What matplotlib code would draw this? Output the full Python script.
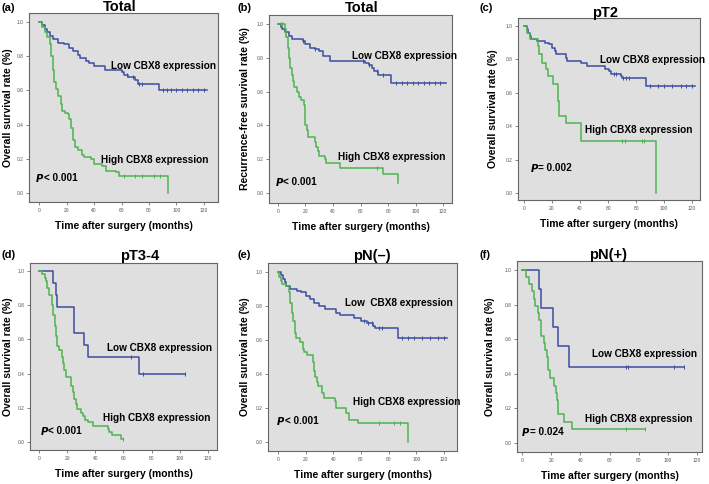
import matplotlib
matplotlib.use("Agg")
import matplotlib.pyplot as plt

plt.rcParams['font.family'] = ['Liberation Sans', 'DejaVu Sans']

W, H = 709, 484

# ---- data: step times / survival (value holds from that time on) ----
# (a) Total, overall survival
a_low_t = [0, 2, 4, 6, 8, 10, 14, 18, 22, 25, 28, 30, 34, 36, 40, 48, 60, 62, 65, 70, 72, 87, 122]
a_low_s = [1.0, 0.98, 0.96, 0.94, 0.92, 0.90, 0.88, 0.87, 0.85, 0.83, 0.81, 0.79, 0.77, 0.76, 0.74, 0.72, 0.71, 0.69, 0.68, 0.66, 0.64, 0.60, 0.60]
a_low_c = [64, 68, 73, 75, 90, 93, 96, 100, 104, 108, 112, 116, 120]
a_high_t = [0, 2, 4, 6, 8, 9, 10, 11, 12, 14, 16, 17, 19, 21, 22, 23.5, 25, 26.5, 28, 31, 33, 38, 40, 46, 49, 56, 58, 94, 94.01]
a_high_s = [1.0, 0.97, 0.94, 0.91, 0.87, 0.80, 0.72, 0.65, 0.61, 0.57, 0.52, 0.48, 0.47, 0.46, 0.43, 0.38, 0.31, 0.27, 0.25, 0.22, 0.21, 0.20, 0.17, 0.16, 0.13, 0.12, 0.10, 0.0, 0.0]
a_high_c = [62, 70, 75, 84, 88]

# (b) Total, recurrence-free survival
b_low_t = [0, 2, 3, 5, 8, 10, 18, 20, 23, 27, 30, 33, 38, 63, 66, 68, 70, 73, 82, 122]
b_low_s = [1.0, 0.98, 0.97, 0.95, 0.93, 0.91, 0.90, 0.88, 0.86, 0.85, 0.84, 0.81, 0.78, 0.77, 0.76, 0.74, 0.72, 0.70, 0.65, 0.65]
b_low_c = [18, 27, 62, 66, 72, 76, 86, 90, 94, 98, 102, 106, 110, 114, 118]
b_high_t = [0, 5, 6, 7, 8, 9, 10, 11, 12, 14, 15, 17, 19, 19.5, 20, 21, 22, 27, 28, 29, 30, 34, 35, 45, 76, 87, 87.01]
b_high_s = [1.0, 0.97, 0.92, 0.86, 0.80, 0.74, 0.70, 0.66, 0.63, 0.60, 0.57, 0.55, 0.52, 0.43, 0.40, 0.37, 0.33, 0.30, 0.27, 0.25, 0.22, 0.20, 0.18, 0.15, 0.11, 0.06, 0.06]
b_high_c = [2, 3, 8, 72]

# (c) pT2, overall survival
c_low_t = [0, 2, 3, 4, 5, 9, 15, 18, 20, 22, 23, 30, 31, 41, 45, 58, 61, 62, 69, 70, 87, 122]
c_low_s = [1.0, 0.98, 0.96, 0.94, 0.92, 0.91, 0.90, 0.89, 0.87, 0.85, 0.83, 0.81, 0.79, 0.78, 0.76, 0.74, 0.73, 0.71, 0.70, 0.69, 0.64, 0.64]
c_low_c = [64, 66, 71, 73, 75, 90, 96, 100, 106, 112, 116, 120]
c_high_t = [0, 2, 4, 10, 11, 13, 16, 17, 21, 24, 24.5, 25, 30, 41, 94, 94.01]
c_high_s = [1.0, 0.96, 0.92, 0.88, 0.83, 0.78, 0.74, 0.70, 0.65, 0.60, 0.55, 0.46, 0.42, 0.31, 0.0, 0.0]
c_high_c = [70, 72, 84, 86]

# (d) pT3-4, overall survival
d_low_t = [0, 10, 12, 13, 25, 32, 35, 71, 104]
d_low_s = [1.0, 0.93, 0.86, 0.79, 0.64, 0.57, 0.50, 0.40, 0.40]
d_low_c = [65, 74, 104]
d_high_t = [0, 2, 4, 5, 6, 7, 9, 10, 11, 12, 13, 14, 16, 17, 18, 19, 23, 24, 25, 26, 27, 30, 31, 33, 35, 38, 49, 50, 52, 58, 60]
d_high_s = [1.0, 0.98, 0.96, 0.94, 0.90, 0.86, 0.80, 0.74, 0.68, 0.62, 0.56, 0.54, 0.50, 0.46, 0.42, 0.38, 0.33, 0.29, 0.25, 0.22, 0.19, 0.17, 0.15, 0.13, 0.115, 0.096, 0.075, 0.058, 0.038, 0.019, 0.019]
d_high_c = [60]

# (e) pN(-), overall survival
e_low_t = [0, 2, 4, 5, 6, 9, 14, 17, 20, 23, 26, 30, 34, 42, 45, 55, 60, 64, 69, 70, 87, 122]
e_low_s = [1.0, 0.98, 0.96, 0.94, 0.92, 0.90, 0.89, 0.88, 0.86, 0.84, 0.82, 0.80, 0.78, 0.76, 0.75, 0.73, 0.71, 0.70, 0.68, 0.67, 0.61, 0.61]
e_low_c = [62, 65, 68, 73, 75, 90, 94, 98, 104, 110, 116, 120]
e_high_t = [0, 1, 2, 3, 6, 8, 9, 10, 11, 12, 13, 16, 18, 19, 21, 25, 26, 27, 28, 29, 32, 33, 41, 42, 49, 51, 58, 94, 94.01]
e_high_s = [1.0, 0.97, 0.95, 0.93, 0.92, 0.88, 0.82, 0.76, 0.71, 0.64, 0.61, 0.59, 0.55, 0.53, 0.51, 0.47, 0.42, 0.38, 0.35, 0.33, 0.29, 0.26, 0.24, 0.20, 0.17, 0.13, 0.11, 0.0, 0.0]
e_high_c = [73, 84, 88]

# (f) pN(+), overall survival
f_low_t = [0, 12, 13, 21, 25, 32, 111]
f_low_s = [1.0, 0.89, 0.78, 0.67, 0.56, 0.44, 0.44]
f_low_c = [71, 73, 104, 111]
f_high_t = [0, 3, 5, 7, 8, 9, 11, 12, 13, 15, 16, 17, 18, 19, 22, 23, 24, 24.5, 25, 29, 34, 84]
f_high_s = [1.0, 0.96, 0.92, 0.88, 0.83, 0.79, 0.75, 0.71, 0.62, 0.58, 0.54, 0.50, 0.42, 0.375, 0.33, 0.29, 0.25, 0.21, 0.17, 0.12, 0.08, 0.08]
f_high_c = [71, 84]

panel_letters = ["(a)", "(b)", "(c)", "(d)", "(e)", "(f)"]
titles = ["Total", "Total", "pT2", "pT3-4", "pN(\u2013)", "pN(+)"]
ylabels = ["Overall survival rate (%)", "Recurrence-free survival rate (%)",
           "Overall survival rate (%)", "Overall survival rate (%)",
           "Overall survival rate (%)", "Overall survival rate (%)"]
low_labels = ["Low CBX8 expression", "Low CBX8 expression", "Low CBX8 expression",
              "Low CBX8 expression", "Low  CBX8 expression", "Low CBX8 expression"]
p_texts = ["< 0.001", "< 0.001", "= 0.002", "< 0.001", "< 0.001", "= 0.024"]

series = [
    (a_low_t, a_low_s, a_low_c, a_high_t, a_high_s, a_high_c),
    (b_low_t, b_low_s, b_low_c, b_high_t, b_high_s, b_high_c),
    (c_low_t, c_low_s, c_low_c, c_high_t, c_high_s, c_high_c),
    (d_low_t, d_low_s, d_low_c, d_high_t, d_high_s, d_high_c),
    (e_low_t, e_low_s, e_low_c, e_high_t, e_high_s, e_high_c),
    (f_low_t, f_low_s, f_low_c, f_high_t, f_high_s, f_high_c),
]

# layout (pixels): axes frame left, right, top, bottom
frames = [(29, 218, 13, 202), (269, 452, 15, 203), (518, 700, 18, 200),
          (30, 217, 263, 450), (268, 457, 263, 451), (517, 702, 261, 452)]
xlims = [(-7.3, 130.2), (-6.5, 126.5), (-4.3, 125.7), (-6.4, 126.4), (-7.2, 129.4), (-3.4, 123.4)]
ylims = [(-0.053, 1.053), (-0.059, 1.053), (-0.042, 1.048), (-0.047, 1.047), (-0.053, 1.053), (-0.052, 1.052)]
# text positions in data coords: low label, high label, p value
low_pos = [(52, 0.745), (53.5, 0.813), (54, 0.795), (48, 0.547), (48.2, 0.82), (48.2, 0.515)]
high_pos = [(45, 0.19), (43.3, 0.213), (43.3, 0.378), (45.2, 0.14), (54.2, 0.233), (43, 0.14)]
p_pos = [(-2.7, 0.088), (-2.4, 0.063), (4, 0.15), (0.7, 0.064), (-1.2, 0.125), (-0.5, 0.062)]
title_pos = [(120, 7), (362, 8), (605, 13), (140, 256), (372, 256), (608, 255)]
letter_pos = [(2, 8), (237, 8), (480, 8), (2, 255), (238, 255), (480, 255)]
ylab_x = [8, 245, 493, 8, 245, 490]

BLUE = "#3d4ea0"
GREEN = "#4db34f"
BG = "#dfdfdf"

fig = plt.figure(figsize=(W / 100, H / 100), dpi=100)

for i in range(6):
    l, r, t, b = frames[i]
    ax = fig.add_axes([l / W, 1 - b / H, (r - l) / W, (b - t) / H])
    ax.set_facecolor(BG)
    lt, ls, lc, ht, hs, hc = series[i]
    ax.step(lt, ls, where="post", color=BLUE, lw=1.1)
    ax.step(ht, hs, where="post", color=GREEN, lw=1.1)
    # censor ticks
    for ts, ss, cs, col in ((lt, ls, lc, BLUE), (ht, hs, hc, GREEN)):
        for c in cs:
            v = ss[0]
            for tt, sv in zip(ts, ss):
                if tt <= c:
                    v = sv
            ax.plot([c], [v], marker="|", color=col, ms=3, mew=0.7)
    ax.set_xlim(*xlims[i])
    ax.set_ylim(*ylims[i])
    ax.set_xticks([0, 20, 40, 60, 80, 100, 120])
    ax.set_yticks([0.0, 0.2, 0.4, 0.6, 0.8, 1.0])
    ax.set_yticklabels(["0.0", "0.2", "0.4", "0.6", "0.8", "1.0"])
    ax.tick_params(labelsize=3.5, colors="#555555", length=2, width=0.5, pad=2)
    for sp in ax.spines.values():
        sp.set_color("#666666")
        sp.set_linewidth(0.8)

    ax.text(*low_pos[i], low_labels[i], fontsize=7.2, fontweight="bold", va="center", ha="left")
    ax.text(*high_pos[i], "High CBX8 expression", fontsize=7.2, fontweight="bold", va="center", ha="left")
    ax.text(p_pos[i][0], p_pos[i][1], "$\\boldsymbol{P}$", fontsize=7.2, va="center", ha="left")
    ax.text(p_pos[i][0] + 6, p_pos[i][1], p_texts[i], fontsize=7.2, fontweight="bold", va="center", ha="left")

    ax.set_xlabel("Time after surgery (months)", fontsize=7.5, fontweight="bold", labelpad=6)
    fig.text(ylab_x[i] / W, 1 - ((t + b) / 2) / H, ylabels[i], rotation=90,
             fontsize=7.5, fontweight="bold", ha="center", va="center")
    fig.text(title_pos[i][0] / W, 1 - title_pos[i][1] / H, titles[i],
             fontsize=10.5, fontweight="bold", ha="center", va="center")
    fig.text(letter_pos[i][0] / W, 1 - letter_pos[i][1] / H, panel_letters[i],
             fontsize=8, fontweight="bold", ha="left", va="center")

fig.savefig("out.png", dpi=100, facecolor="white")
